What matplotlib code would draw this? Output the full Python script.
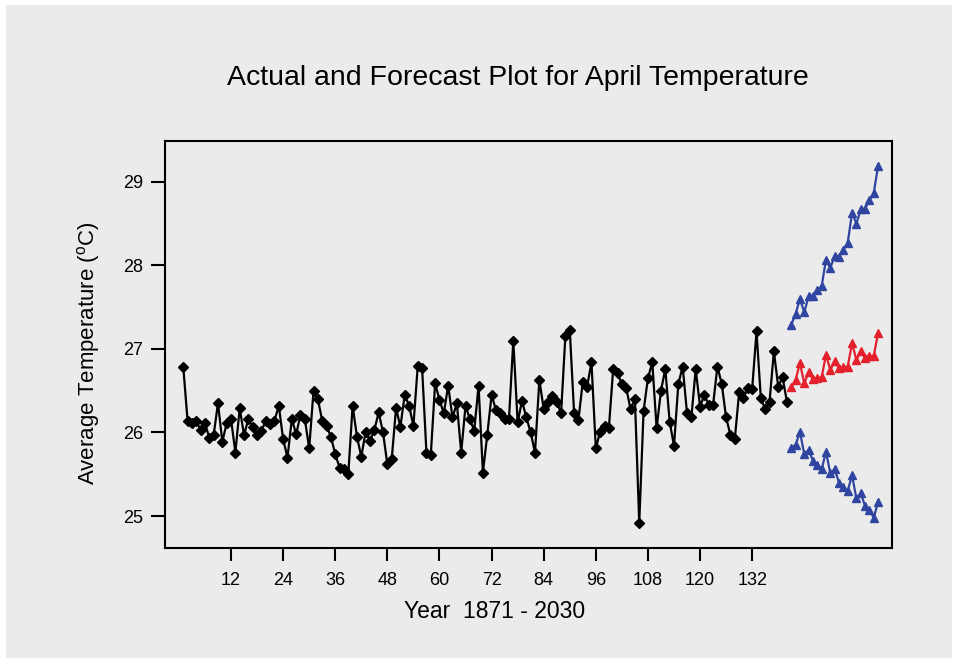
import numpy as np
import matplotlib
matplotlib.use("Agg")
import matplotlib.pyplot as plt
from matplotlib.patches import Rectangle

# ---------------- data ----------------
actual = [
    26.79, 26.14, 26.11, 26.14, 26.03, 26.11, 25.94, 25.97, 26.35, 25.89,
    26.11, 26.16, 25.76, 26.29, 25.97, 26.16, 26.06, 25.97, 26.02, 26.14,
    26.10, 26.14, 26.32, 25.92, 25.70, 26.16, 25.98, 26.21, 26.16, 25.81,
    26.50, 26.40, 26.14, 26.08, 25.95, 25.74, 25.58, 25.56, 25.50, 26.32,
    25.95, 25.71, 26.01, 25.90, 26.03, 26.24, 26.00, 25.62, 25.68, 26.29,
    26.07, 26.45, 26.32, 26.08, 26.80, 26.77, 25.76, 25.73, 26.59, 26.39,
    26.23, 26.56, 26.18, 26.35, 25.76, 26.32, 26.16, 26.02, 26.56, 25.52,
    25.97, 26.45, 26.27, 26.23, 26.16, 26.16, 27.10, 26.12, 26.38, 26.18,
    26.00, 25.76, 26.63, 26.28, 26.37, 26.44, 26.37, 26.23, 27.16, 27.23,
    26.23, 26.15, 26.61, 26.55, 26.84, 25.81, 26.01, 26.08, 26.05, 26.76,
    26.71, 26.58, 26.53, 26.28, 26.40, 24.92, 26.26, 26.65, 26.84, 26.05,
    26.50, 26.76, 26.13, 25.84, 26.58, 26.79, 26.23, 26.18, 26.76, 26.31,
    26.45, 26.33, 26.33, 26.79, 26.58, 26.18, 25.97, 25.92, 26.48, 26.41,
    26.53, 26.52, 27.21, 26.41, 26.28, 26.37, 26.97, 26.55, 26.66, 26.37,
]
forecast = [
    26.54, 26.63, 26.83, 26.59, 26.72, 26.64, 26.65, 26.66, 26.93, 26.75,
    26.85, 26.77, 26.78, 26.79, 27.07, 26.87, 26.97, 26.89, 26.91, 26.92,
    27.19,
]
upper = [
    27.29, 27.42, 27.60, 27.44, 27.63, 27.64, 27.71, 27.75, 28.07, 27.97,
    28.11, 28.10, 28.19, 28.27, 28.63, 28.50, 28.67, 28.68, 28.78, 28.87,
    29.19,
]
lower = [
    25.82, 25.85, 26.01, 25.74, 25.79, 25.66, 25.61, 25.56, 25.77, 25.51,
    25.56, 25.40, 25.35, 25.30, 25.49, 25.21, 25.27, 25.12, 25.07, 24.98,
    25.17,
]
actual_idx = np.arange(1, len(actual) + 1)
forecast_idx = np.arange(len(actual) + 1, len(actual) + 1 + len(forecast))
xticks = [12, 24, 36, 48, 60, 72, 84, 96, 108, 120, 132]
yticks = [25, 26, 27, 28, 29]

title = "Actual and Forecast Plot for April Temperature"
xlabel = "Year  1871 - 2030"
ylabel = r"Average Temperature ($^{\mathrm{o}}$C)"

# ---------------- style ----------------
W, H = 958, 662
plt.rcParams['font.family'] = ['Liberation Sans', 'DejaVu Sans']
plt.rcParams['mathtext.fontset'] = 'custom'
plt.rcParams['mathtext.rm'] = 'Liberation Sans'
plt.rcParams['mathtext.default'] = 'regular'

bg = '#ebebeb'
blue = '#2f45a0'
red = '#e3202b'

fig = plt.figure(figsize=(W / 100, H / 100), dpi=100, facecolor='white')
fig.patches.append(Rectangle((6 / W, 4 / H), (W - 12) / W, (H - 9) / H,
                             transform=fig.transFigure, facecolor=bg,
                             edgecolor='none', zorder=-10))

l, r, t, b = 165, 892, 141, 548
ax = fig.add_axes([l / W, 1 - b / H, (r - l) / W, (b - t) / H])
ax.set_facecolor(bg)

ax.plot(actual_idx, actual, color='black', lw=1.6, marker='D', ms=5,
        mfc='black', mec='black')
ax.plot(forecast_idx, upper, color=blue, lw=1.6, marker='^', ms=5.5,
        mfc=blue, mec=blue)
ax.plot(forecast_idx, forecast, color=red, lw=1.6, marker='^', ms=5.5,
        mfc=red, mec=red)
ax.plot(forecast_idx, lower, color=blue, lw=1.6, marker='^', ms=5.5,
        mfc=blue, mec=blue)

ax.set_xlim(-3.2, 164.2)
ax.set_ylim(24.617, 29.49)
ax.set_xticks(xticks)
ax.set_xticklabels([str(v) for v in xticks], fontsize=13)
ax.set_yticks(yticks)
ax.set_yticklabels([str(v) for v in yticks], fontsize=13)
ax.tick_params(axis='x', direction='out', length=9, width=1.5, pad=8,
               color='black')
ax.tick_params(axis='y', direction='out', length=10, width=1.5, pad=6,
               color='black')
for s in ax.spines.values():
    s.set_linewidth(1.5)
    s.set_color('black')

fig.text(518 / W, 1 - 78 / H, title, ha='center', va='center', fontsize=20.5)
fig.text(495 / W, 1 - 611 / H, xlabel, ha='center', va='center',
         fontsize=16.5)
fig.text(88 / W, 1 - 353 / H, ylabel, ha='center', va='center',
         rotation=90, fontsize=16)

fig.savefig('out.png', dpi=100, facecolor='white')
